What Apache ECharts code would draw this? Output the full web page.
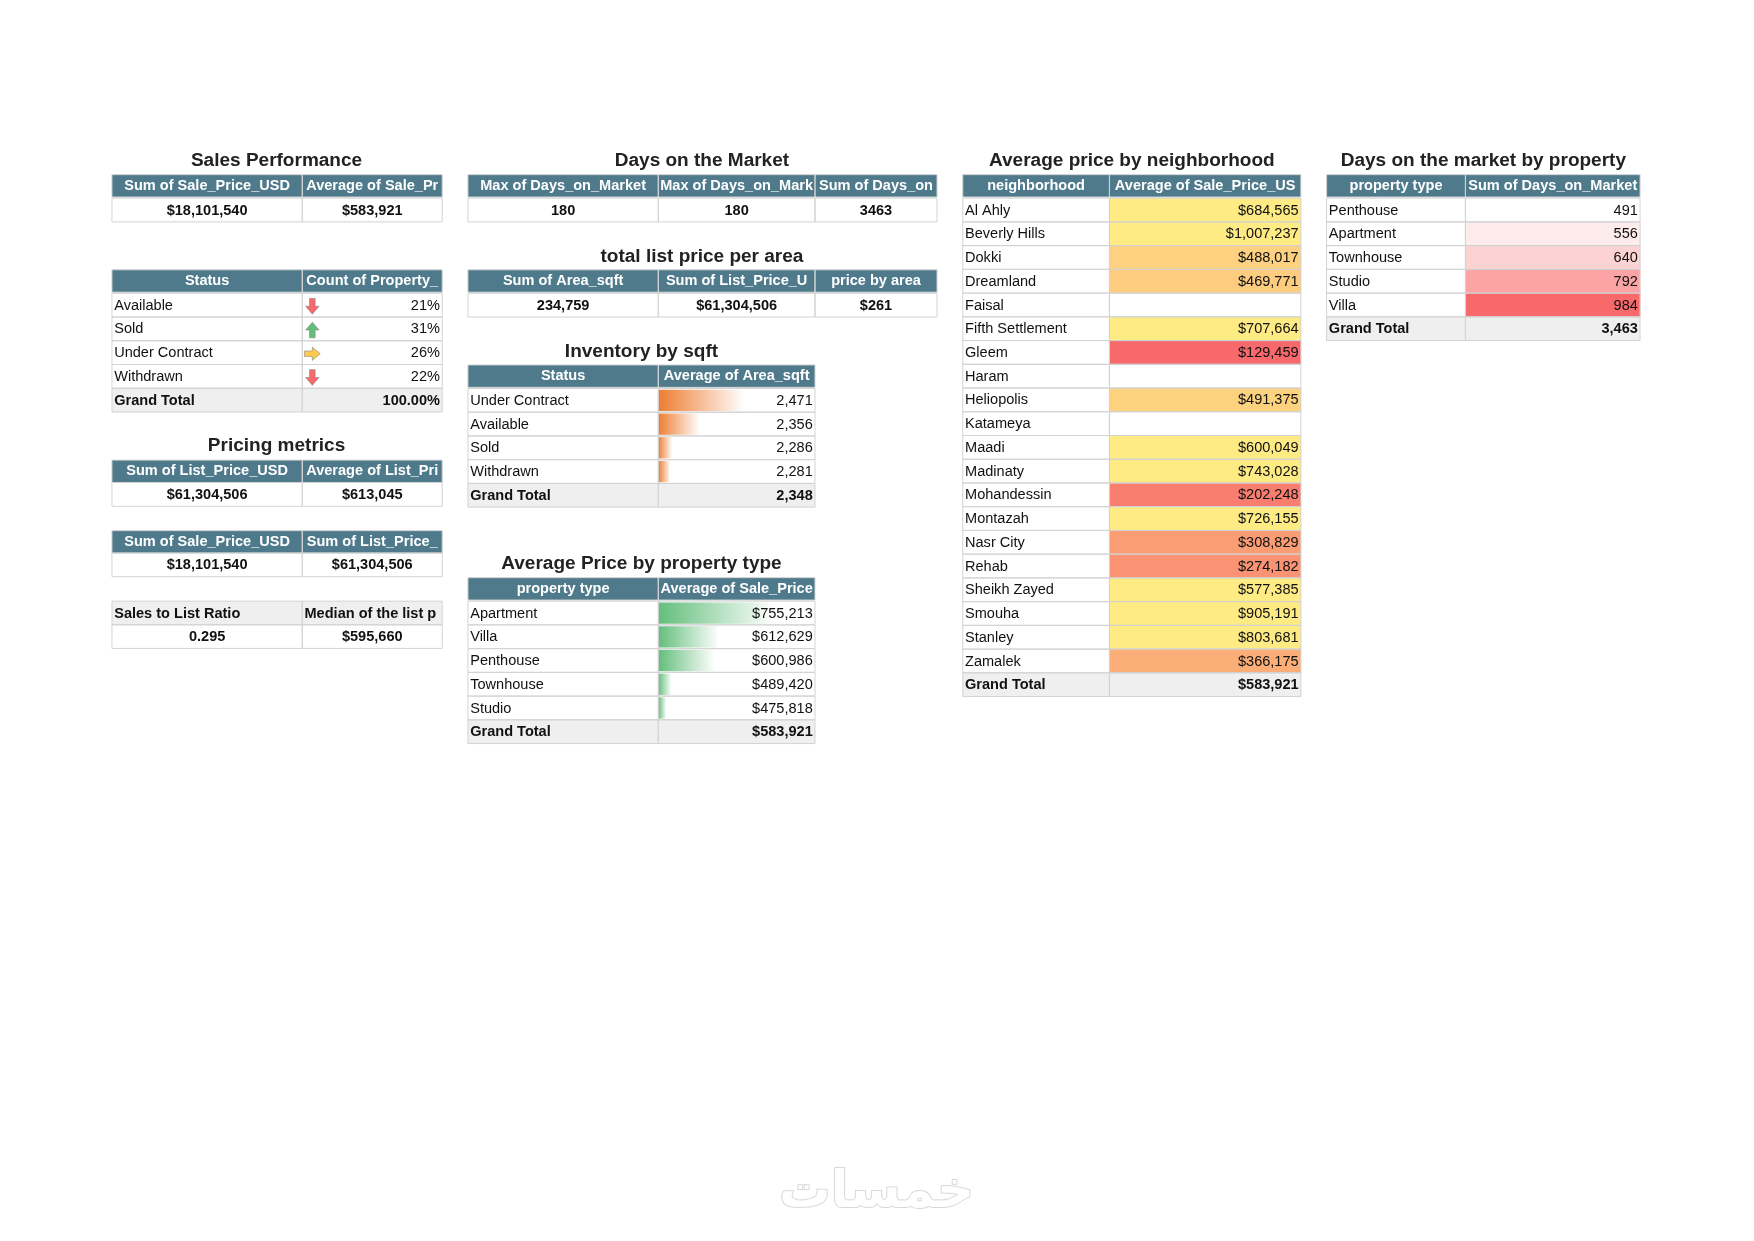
<!DOCTYPE html>
<html>
<head>
<meta charset="utf-8">
<script src="https://cdn.jsdelivr.net/npm/echarts@6/dist/echarts.min.js"></script>
<style>html,body{margin:0;background:#fff}#app{width:1754px;height:1241px}</style>
</head>
<body>
<div id="app"></div>
<script>
// data
var salesSummary = ['$18,101,540', '$583,921'];
var statusCats = ['Available', 'Sold', 'Under Contract', 'Withdrawn'];
var statusShare = [21, 31, 26, 22];
var statusTrend = ['down', 'up', 'right', 'down'];
var pricing = ['$61,304,506', '$613,045'];
var saleVsList = ['$18,101,540', '$61,304,506'];
var ratio = ['0.295', '$595,660'];
var daysMarket = ['180', '180', '3463'];
var areaPrice = ['234,759', '$61,304,506', '$261'];
var invCats = ['Under Contract', 'Available', 'Sold', 'Withdrawn'];
var invArea = [2471, 2356, 2286, 2281];
var invTotal = 2348;
var ptypeCats = ['Apartment', 'Villa', 'Penthouse', 'Townhouse', 'Studio'];
var ptypePrice = [755213, 612629, 600986, 489420, 475818];
var ptypeTotal = 583921;
var hoods = ['Al Ahly', 'Beverly Hills', 'Dokki', 'Dreamland', 'Faisal', 'Fifth Settlement', 'Gleem', 'Haram',
  'Heliopolis', 'Katameya', 'Maadi', 'Madinaty', 'Mohandessin', 'Montazah', 'Nasr City', 'Rehab',
  'Sheikh Zayed', 'Smouha', 'Stanley', 'Zamalek'];
var hoodPrice = [684565, 1007237, 488017, 469771, null, 707664, 129459, null, 491375, null,
  600049, 743028, 202248, 726155, 308829, 274182, 577385, 905191, 803681, 366175];
var hoodTotal = 583921;
var daysCats = ['Penthouse', 'Apartment', 'Townhouse', 'Studio', 'Villa'];
var daysVals = [491, 556, 640, 792, 984];
var daysTotal = 3463;

var S = 1.1195;
function X(v) { return v * S; }
function money(v) { return '$' + v.toLocaleString('en-US'); }
function num(v) { return v.toLocaleString('en-US'); }

var HEAD = '#4e7a8b', FONT = 'Liberation Sans, Arial, sans-serif';
var RH = 21.2;
var g = [];

function box(x, y, w, h, fill) {
  g.push({ type: 'rect', z: 0, shape: { x: X(x), y: X(y), width: X(w), height: X(h) }, style: { fill: fill, stroke: null } });
  g.push({ type: 'rect', z: 10, shape: { x: X(x), y: X(y), width: X(w), height: X(h) }, style: { fill: 'none', stroke: '#d3d3d3', lineWidth: 1 } });
}
function txt(x, y, w, s, align, bold, color, size) {
  var tx = align === 'center' ? x + w / 2 : align === 'right' ? x + w - 2 : x + 2;
  g.push({ type: 'text', z: 11, x: X(tx), y: X(y), style: {
    text: s, align: align, verticalAlign: 'middle', fill: color || '#111',
    font: (bold ? 'bold ' : '') + X(size || 13) + 'px ' + FONT,
    width: X(w - 2), overflow: 'truncate', ellipsis: '' } });
}
function title(cx, y, s, w) {
  txt(cx - w / 2, y, w, s, 'center', true, '#222', 17);
}
// header row
function header(xs, y, names) {
  for (var i = 0; i < names.length; i++) {
    box(xs[i], y, xs[i + 1] - xs[i], 20, HEAD);
    txt(xs[i], y + 10, xs[i + 1] - xs[i], names[i], 'center', true, '#fff', 13);
  }
}
// body row; aligns per column; fills per column
function row(xs, y, cells, aligns, bold, grey, fills) {
  for (var i = 0; i < cells.length; i++) {
    var f = grey ? '#efefef' : '#fff';
    if (fills && fills[i] === 'none') f = 'rgba(0,0,0,0)';
    box(xs[i], y, xs[i + 1] - xs[i], RH, f);
    if (cells[i] !== '') txt(xs[i], y + RH / 2 + 0.5, xs[i + 1] - xs[i], cells[i], aligns[i], bold, '#111', 13);
  }
}
function arrow(cx, cy, dir, fill) {
  var pts = [[-2.5, -7], [2.5, -7], [2.5, 0], [6, 0], [0, 7], [-6, 0], [-2.5, 0]];
  var ang = { down: 0, up: Math.PI, right: -Math.PI / 2 }[dir];
  var p = pts.map(function (q) {
    var xx = q[0] * Math.cos(ang) - q[1] * Math.sin(ang), yy = q[0] * Math.sin(ang) + q[1] * Math.cos(ang);
    return [X(cx + xx), X(cy + yy)];
  });
  g.push({ type: 'polygon', z: 12, shape: { points: p }, style: { fill: fill, stroke: '#888', lineWidth: 0.6 } });
}

// Sales Performance
var A = [100, 270, 395];
title(247, 144, 'Sales Performance', 300);
header(A, 156, ['Sum of Sale_Price_USD', 'Average of Sale_Price_USD']);
row(A, 177, salesSummary, ['center', 'center'], true);

// status
header(A, 241, ['Status', 'Count of Property_ID']);
statusCats.forEach(function (c, i) {
  var y = 262 + i * RH;
  row(A, y, [c, statusShare[i] + '%'], ['left', 'right'], false);
  arrow(279, y + RH / 2 + 1, statusTrend[i], { down: '#f8696b', up: '#63be7b', right: '#ffc94f' }[statusTrend[i]]);
});
row(A, 262 + 4 * RH, ['Grand Total', '100.00%'], ['left', 'right'], true, true);

// pricing metrics
title(247, 398, 'Pricing metrics', 300);
header(A, 411, ['Sum of List_Price_USD', 'Average of List_Price_USD']);
row(A, 431, pricing, ['center', 'center'], true);
header(A, 474, ['Sum of Sale_Price_USD', 'Sum of List_Price_USD']);
row(A, 494, saleVsList, ['center', 'center'], true);
row(A, 537, ['Sales to List Ratio', 'Median of the list price'], ['left', 'left'], true, true);
row(A, 558, ratio, ['center', 'center'], true);

// Days on the market
var B = [418, 588, 728, 837];
title(627, 144, 'Days on the Market', 300);
header(B, 156, ['Max of Days_on_Market', 'Max of Days_on_Market', 'Sum of Days_on_Market']);
row(B, 177, daysMarket, ['center', 'center', 'center'], true);
title(627, 229, 'total list price per area', 300);
header(B, 241, ['Sum of Area_sqft', 'Sum of List_Price_USD', 'price by area']);
row(B, 262, areaPrice, ['center', 'center', 'center'], true);

// Inventory by sqft
var C = [418, 588, 728];
title(573, 314, 'Inventory by sqft', 300);
header(C, 326, ['Status', 'Average of Area_sqft']);
invCats.forEach(function (c, i) { row(C, 347 + i * RH, [c, num(invArea[i])], ['left', 'right'], false, false, [null, 'none']); });
row(C, 347 + 4 * RH, ['Grand Total', num(invTotal)], ['left', 'right'], true, true);

// Average price by property type
title(573, 504, 'Average Price by property type', 300);
header(C, 516, ['property type', 'Average of Sale_Price_USD']);
ptypeCats.forEach(function (c, i) { row(C, 537 + i * RH, [c, money(ptypePrice[i])], ['left', 'right'], false, false, [null, 'none']); });
row(C, 537 + 5 * RH, ['Grand Total', money(ptypeTotal)], ['left', 'right'], true, true);

// neighborhood
var D = [860, 991, 1162];
title(1011, 144, 'Average price by neighborhood', 300);
header(D, 156, ['neighborhood', 'Average of Sale_Price_USD']);
hoods.forEach(function (c, i) { row(D, 177 + i * RH, [c, hoodPrice[i] == null ? '' : money(hoodPrice[i])], ['left', 'right'], false, false, [null, 'none']); });
row(D, 177 + 20 * RH, ['Grand Total', money(hoodTotal)], ['left', 'right'], true, true);

// days by property type
var E = [1185, 1309, 1465];
title(1325, 144, 'Days on the market by property type', 280);
header(E, 156, ['property type', 'Sum of Days_on_Market']);
daysCats.forEach(function (c, i) { row(E, 177 + i * RH, [c, num(daysVals[i])], ['left', 'right'], false, false, [null, 'none']); });
row(E, 177 + 5 * RH, ['Grand Total', num(daysTotal)], ['left', 'right'], true, true);

// watermark
g.push({ type: 'text', z: 1, x: X(783), y: X(1066), style: { text: 'خمسات', align: 'center', verticalAlign: 'middle',
  font: 'bold ' + X(46) + 'px DejaVu Sans, sans-serif', fill: '#ffffff', stroke: '#d8d8d8', lineWidth: 2 } });

function gridAt(x, y, w, n) { return { left: X(x), top: X(y), width: X(w), height: X(n * RH), containLabel: false }; }
function grad(c) {
  return { type: 'linear', x: 0, y: 0, x2: 1, y2: 0, colorStops: [{ offset: 0, color: c }, { offset: 1, color: '#ffffff' }] };
}

var chart = echarts.init(document.getElementById('app'));
chart.setOption({
  animation: false,
  graphic: { elements: g },
  grid: [gridAt(588, 347, 140, 4), gridAt(588, 537, 140, 5), gridAt(991, 177, 171, 20), gridAt(1309, 177, 156, 5)],
  xAxis: [
    { gridIndex: 0, type: 'value', min: 2250, max: 2650, show: false },
    { gridIndex: 1, type: 'value', min: 455000, max: 860000, show: false },
    { gridIndex: 2, type: 'category', data: ['v'], show: false },
    { gridIndex: 3, type: 'category', data: ['v'], show: false }
  ],
  yAxis: [
    { gridIndex: 0, type: 'category', data: invCats, inverse: true, show: false },
    { gridIndex: 1, type: 'category', data: ptypeCats, inverse: true, show: false },
    { gridIndex: 2, type: 'category', data: hoods, inverse: true, show: false },
    { gridIndex: 3, type: 'category', data: daysCats, inverse: true, show: false }
  ],
  visualMap: [
    { show: false, seriesIndex: 2, min: 129459, max: 577385, inRange: { color: ['#f8696b', '#fbaa77', '#ffeb84'] } },
    { show: false, seriesIndex: 3, min: 491, max: 984, inRange: { color: ['#ffffff', '#f8696b'] } }
  ],
  series: [
    { type: 'bar', xAxisIndex: 0, yAxisIndex: 0, data: invArea, barWidth: X(19), itemStyle: { color: grad('#ed7d31') } },
    { type: 'bar', xAxisIndex: 1, yAxisIndex: 1, data: ptypePrice, barWidth: X(19), itemStyle: { color: grad('#63be7b') } },
    { type: 'heatmap', xAxisIndex: 2, yAxisIndex: 2,
      data: hoodPrice.map(function (v, i) { return v == null ? null : [0, i, v]; }).filter(function (d) { return d; }) },
    { type: 'heatmap', xAxisIndex: 3, yAxisIndex: 3, data: daysVals.map(function (v, i) { return [0, i, v]; }) }
  ]
});
</script>
</body>
</html>
